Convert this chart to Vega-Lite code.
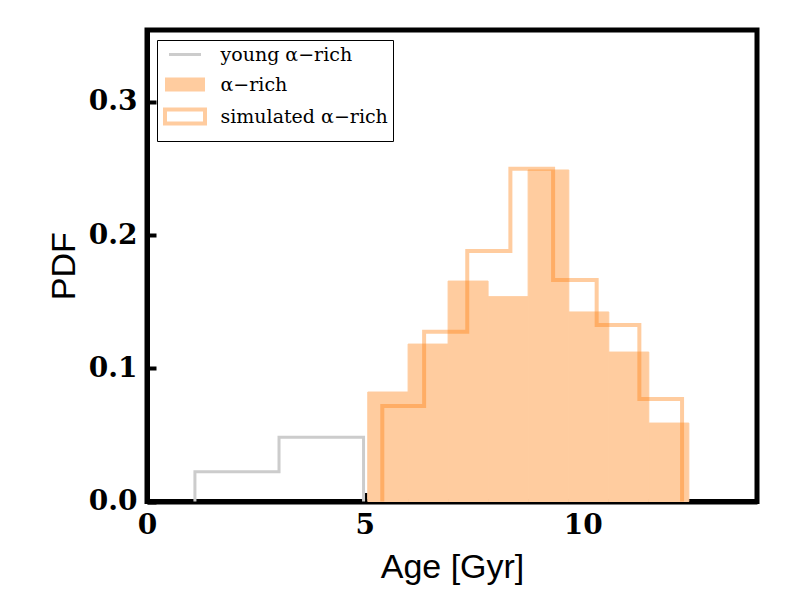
{
  "$schema": "https://vega.github.io/schema/vega-lite/v6.json",
  "width": 610,
  "height": 471.5,
  "autosize": {"type": "none"},
  "padding": {"left": 147, "top": 30, "right": 43, "bottom": 98.5},
  "background": "white",
  "datasets": {
    "young": [
      {"i": 0, "age": 1.10, "pdf": 0, "series": "young α−rich"},
      {"i": 1, "age": 1.10, "pdf": 0.0224, "series": "young α−rich"},
      {"i": 2, "age": 3.03, "pdf": 0.0482, "series": "young α−rich"},
      {"i": 3, "age": 4.97, "pdf": 0, "series": "young α−rich"}
    ],
    "rich": [
      {"start": 5.067, "end": 5.992, "pdf": 0.0822, "series": "α−rich"},
      {"start": 5.992, "end": 6.910, "pdf": 0.1182, "series": "α−rich"},
      {"start": 6.910, "end": 7.828, "pdf": 0.1655, "series": "α−rich"},
      {"start": 7.828, "end": 8.747, "pdf": 0.1538, "series": "α−rich"},
      {"start": 8.747, "end": 9.681, "pdf": 0.2489, "series": "α−rich"},
      {"start": 9.681, "end": 10.599, "pdf": 0.1423, "series": "α−rich"},
      {"start": 10.599, "end": 11.517, "pdf": 0.1122, "series": "α−rich"},
      {"start": 11.517, "end": 12.436, "pdf": 0.0589, "series": "α−rich"}
    ],
    "sim": [
      {"i": 0, "age": 5.40, "pdf": 0, "series": "simulated α−rich"},
      {"i": 1, "age": 5.40, "pdf": 0.0717, "series": "simulated α−rich"},
      {"i": 2, "age": 6.36, "pdf": 0.1275, "series": "simulated α−rich"},
      {"i": 3, "age": 7.35, "pdf": 0.1881, "series": "simulated α−rich"},
      {"i": 4, "age": 8.34, "pdf": 0.2498, "series": "simulated α−rich"},
      {"i": 5, "age": 9.32, "pdf": 0.1663, "series": "simulated α−rich"},
      {"i": 6, "age": 10.32, "pdf": 0.1325, "series": "simulated α−rich"},
      {"i": 7, "age": 11.30, "pdf": 0.0770, "series": "simulated α−rich"},
      {"i": 8, "age": 12.28, "pdf": 0, "series": "simulated α−rich"}
    ]
  },
  "config": {
    "view": {"stroke": "black", "strokeWidth": 5},
    "axis": {
      "grid": false,
      "domain": true,
      "domainColor": "black",
      "domainWidth": 5,
      "tickColor": "black",
      "tickSize": -9,
      "tickWidth": 4,
      "labelFont": "DejaVu Serif",
      "labelFontWeight": "bold",
      "labelFontSize": 28,
      "labelColor": "black",
      "labelPadding": 19,
      "labelFlush": false,
      "labelOverlap": false,
      "titleFont": "Liberation Sans",
      "titleFontSize": 34,
      "titleFontWeight": "normal",
      "titleColor": "black",
      "zindex": 1
    },
    "legend": {
      "orient": "top-left",
      "offset": 10,
      "padding": 5,
      "rowPadding": -7,
      "strokeColor": "black",
      "fillColor": "white",
      "cornerRadius": 0,
      "labelFont": "DejaVu Serif",
      "labelFontSize": 19,
      "labelColor": "black",
      "labelOffset": 26,
      "labelLimit": 400,
      "symbolOffset": 13.5,
      "symbolSize": 1600,
      "symbolOpacity": 1,
      "symbolStrokeWidth": 4
    }
  },
  "layer": [
    {
      "data": {"name": "young"},
      "mark": {"type": "line", "interpolate": "step-after", "strokeWidth": 3},
      "encoding": {
        "x": {
          "field": "age",
          "type": "quantitative",
          "scale": {"domain": [0, 14], "nice": false},
          "axis": {"values": [0, 5, 10], "format": "d", "title": "Age [Gyr]", "titlePadding": 11}
        },
        "y": {
          "field": "pdf",
          "type": "quantitative",
          "scale": {"domain": [0, 0.354], "nice": false},
          "axis": {"values": [0, 0.1, 0.2, 0.3], "format": ".1f", "title": "PDF", "titlePadding": 7}
        },
        "stroke": {
          "field": "series",
          "type": "nominal",
          "scale": {
            "domain": ["young α−rich", "α−rich", "simulated α−rich"],
            "range": ["#cccccc", "transparent", "rgba(255,127,14,0.4)"]
          },
          "legend": {
            "title": null,
            "encode": {
              "symbols": {
                "update": {
                  "shape": {"signal": "datum.value === 'young α−rich' ? 'M-1,-0.55M1,0.55M-0.8,0H0.8' : 'M-1,-0.55M1,0.55M-1,-0.35H1V0.35H-1Z'"},
                  "strokeWidth": {"signal": "datum.value === 'young α−rich' ? 3 : 4"}
                }
              }
            }
          }
        },
        "order": {"field": "i", "type": "quantitative"}
      }
    },
    {
      "data": {"name": "rich"},
      "mark": {"type": "bar", "stroke": "#ffcc9f", "strokeWidth": 1},
      "encoding": {
        "x": {"field": "start", "type": "quantitative"},
        "x2": {"field": "end"},
        "y": {"field": "pdf", "type": "quantitative"},
        "y2": {"datum": 0},
        "fill": {
          "field": "series",
          "type": "nominal",
          "scale": {
            "domain": ["young α−rich", "α−rich", "simulated α−rich"],
            "range": ["transparent", "#ffcc9f", "transparent"]
          },
          "legend": {
            "title": null,
            "encode": {
              "symbols": {
                "update": {
                  "shape": {"signal": "datum.value === 'young α−rich' ? 'M-1,-0.55M1,0.55M-0.8,0H0.8' : 'M-1,-0.55M1,0.55M-1,-0.35H1V0.35H-1Z'"},
                  "strokeWidth": {"signal": "datum.value === 'young α−rich' ? 3 : 4"}
                }
              }
            }
          }
        }
      }
    },
    {
      "data": {"name": "sim"},
      "mark": {"type": "line", "interpolate": "step-after", "strokeWidth": 4},
      "encoding": {
        "x": {"field": "age", "type": "quantitative"},
        "y": {"field": "pdf", "type": "quantitative"},
        "stroke": {"field": "series", "type": "nominal"},
        "order": {"field": "i", "type": "quantitative"}
      }
    }
  ]
}
